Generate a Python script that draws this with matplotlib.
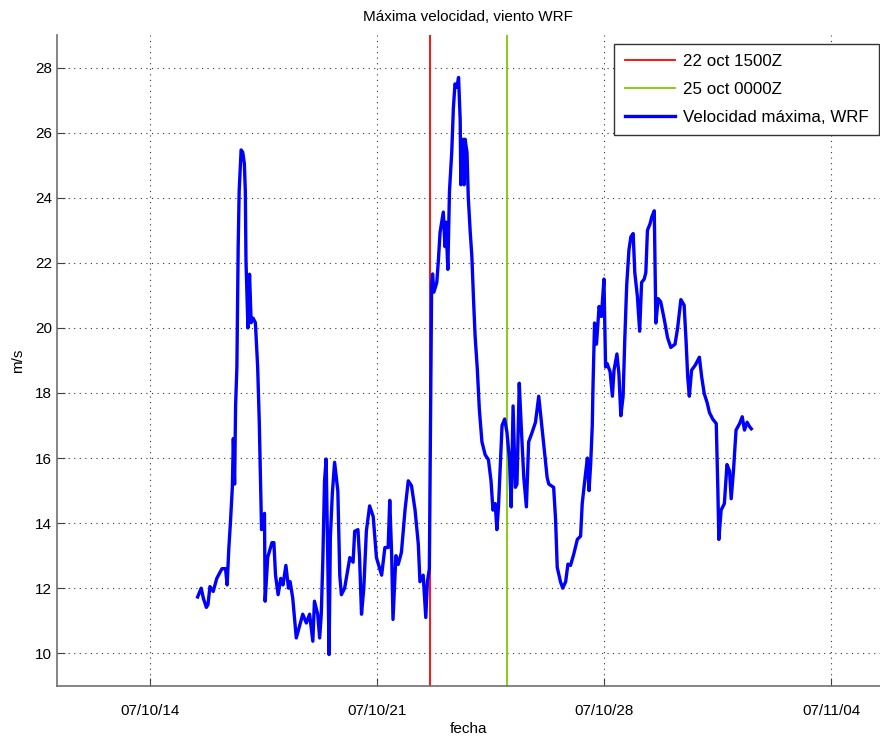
import numpy as np
import matplotlib
matplotlib.use("Agg")
import matplotlib.pyplot as plt
import matplotlib.dates as mdates
from datetime import datetime

plt.rcParams['font.family'] = ['Liberation Sans', 'DejaVu Sans']

# dia = dia de octubre 2007 (fraccional, 32 = 1 nov), vel = m/s
dia = [15.47, 15.58, 15.65, 15.74, 15.79, 15.85, 15.95, 16.06, 16.22, 16.33,
       16.38, 16.43, 16.48, 16.54, 16.57, 16.61, 16.64, 16.68, 16.72, 16.75,
       16.81, 16.86, 16.91, 16.94, 16.96, 17.02, 17.07, 17.12, 17.18, 17.25,
       17.32, 17.37, 17.44, 17.53, 17.55, 17.63, 17.76, 17.82, 17.87, 17.95,
       18.03, 18.10, 18.19, 18.27, 18.32, 18.40, 18.51, 18.71, 18.82, 18.92,
       19.02, 19.07, 19.17, 19.23, 19.28, 19.33, 19.38, 19.43, 19.48, 19.52,
       19.56, 19.62, 19.69, 19.79, 19.85, 19.90, 20.00, 20.16, 20.26, 20.31,
       20.41, 20.46, 20.52, 20.59, 20.67, 20.77, 20.88, 20.98, 21.14, 21.24,
       21.34, 21.39, 21.45, 21.49, 21.58, 21.65, 21.75, 21.86, 21.96, 22.06,
       22.17, 22.27, 22.32, 22.42, 22.50, 22.55, 22.61, 22.64, 22.68, 22.71,
       22.75, 22.84, 22.89, 22.94, 22.99, 23.04, 23.09, 23.12, 23.18, 23.23,
       23.30, 23.35, 23.40, 23.46, 23.51, 23.56, 23.58, 23.64, 23.68, 23.71,
       23.77, 23.81, 23.87, 23.92, 23.97, 24.02, 24.09, 24.15, 24.23, 24.33,
       24.43, 24.51, 24.57, 24.64, 24.69, 24.74, 24.80, 24.85, 24.93, 25.00,
       25.08, 25.13, 25.19, 25.26, 25.31, 25.38, 25.44, 25.52, 25.60, 25.67,
       25.78, 25.88, 25.98, 26.13, 26.24, 26.29, 26.44, 26.50, 26.55, 26.65,
       26.72, 26.81, 26.88, 26.96, 27.06, 27.17, 27.27, 27.32, 27.42, 27.48,
       27.53, 27.58, 27.63, 27.65, 27.70, 27.76, 27.84, 27.91, 27.99, 28.04,
       28.09, 28.18, 28.25, 28.30, 28.39, 28.45, 28.51, 28.58, 28.63, 28.69,
       28.76, 28.82, 28.89, 28.94, 29.02, 29.09, 29.15, 29.23, 29.28, 29.33,
       29.41, 29.46, 29.54, 29.59, 29.66, 29.74, 29.85, 29.95, 30.05, 30.18,
       30.26, 30.36, 30.46, 30.52, 30.57, 30.62, 30.69, 30.80, 30.93, 31.00,
       31.08, 31.17, 31.24, 31.34, 31.45, 31.50, 31.53, 31.60, 31.70, 31.78,
       31.86, 31.91, 31.98, 32.06, 32.17, 32.25, 32.32, 32.40, 32.48, 32.53]
vel = [11.73, 12.0, 11.68, 11.41, 11.5, 12.05, 11.9, 12.3, 12.6, 12.6,
       12.1, 13.2, 14.0, 15.1, 16.6, 15.2, 17.6, 18.8, 22.5, 24.2,
       25.47, 25.4, 25.05, 24.2, 22.07, 20.0, 21.65, 20.16, 20.3, 20.16,
       18.8, 17.1, 13.8, 14.3, 11.6, 12.95, 13.4, 13.4, 12.4, 11.8,
       12.3, 12.1, 12.7, 12.0, 12.2, 11.7, 10.47, 11.2, 10.93, 11.2,
       10.37, 11.6, 11.2, 10.47, 11.2, 12.94, 15.3, 15.97, 12.94, 9.96,
       13.55, 14.9, 15.87, 15.0, 12.4, 11.8, 12.0, 12.94, 12.8, 13.75,
       13.8, 12.94, 11.2, 12.0, 13.76, 14.53, 14.2, 12.94, 12.4, 13.25,
       13.25, 14.7, 13.0, 11.04, 13.0, 12.73, 13.1, 14.4, 15.3, 15.15,
       14.4, 13.35, 12.2, 12.4, 11.1, 12.2, 12.6, 16.5, 21.3, 21.66,
       21.1, 21.4, 22.1, 22.94, 23.25, 23.56, 22.5, 23.25, 21.8, 24.2,
       25.4, 26.75, 27.5, 27.4, 27.7, 26.4, 24.4, 25.8, 24.4, 25.8,
       25.4, 24.0, 22.94, 22.2, 20.9, 19.75, 18.7, 17.5, 16.5, 16.1,
       15.95, 15.3, 14.4, 14.6, 13.8, 14.5, 15.85, 17.0, 17.2, 16.8,
       15.95, 14.5, 17.6, 15.1, 15.2, 18.3, 17.0, 15.4, 14.5, 16.5,
       16.8, 17.1, 17.9, 16.45, 15.4, 15.2, 15.1, 14.1, 12.64, 12.2,
       12.0, 12.2, 12.74, 12.7, 13.05, 13.5, 13.6, 14.6, 15.5, 16.0,
       15.0, 15.8, 17.0, 18.1, 20.15, 19.5, 20.66, 20.35, 21.5, 18.8,
       18.9, 18.65, 17.9, 18.7, 19.2, 18.6, 17.3, 17.9, 19.6, 21.3,
       22.4, 22.8, 22.9, 21.7, 20.97, 19.9, 21.4, 21.5, 21.7, 23.0,
       23.2, 23.4, 23.6, 20.15, 20.9, 20.8, 20.25, 19.7, 19.4, 19.5,
       20.0, 20.87, 20.7, 19.6, 18.5, 17.9, 18.7, 18.85, 19.1, 18.5,
       17.98, 17.7, 17.4, 17.2, 17.06, 15.0, 13.5, 14.4, 14.6, 15.8,
       15.6, 14.75, 15.6, 16.86, 17.06, 17.27, 16.86, 17.1, 16.96, 16.9]

t_rojo = datetime(2007, 10, 22, 15)
t_verde = datetime(2007, 10, 25, 0)

base = mdates.date2num(datetime(2007, 10, 1))
t = base + np.array(dia) - 1

fig = plt.figure(figsize=(8.8, 7.39), dpi=100)
ax = fig.add_axes([0.0645, 0.072, 0.9353, 0.8805])

ax.axvline(mdates.date2num(t_rojo), color='#ff0000', lw=1.3, label='22 oct 1500Z')
ax.axvline(mdates.date2num(t_verde), color='#80c800', lw=1.3, label='25 oct 0000Z')
ax.plot(t, vel, color='#0000ff', lw=2.4, label='Velocidad máxima, WRF')

ax.set_xlim(base + 10.13, base + 35.49)
ax.set_ylim(9, 29)
ax.set_yticks(np.arange(10, 29, 2))
ax.set_xticks([base + 13, base + 20, base + 27, base + 34])
ax.xaxis.set_major_formatter(mdates.DateFormatter('%y/%m/%d'))

ax.grid(True, linestyle=(0, (1, 4)), color='#333333', lw=0.8)
for s in ['top', 'right']:
    ax.spines[s].set_visible(False)
for s in ['left', 'bottom']:
    ax.spines[s].set_color('#707070')
    ax.spines[s].set_linewidth(1.2)
ax.tick_params(direction='in', length=6, labelsize=11, color='#404040')
ax.tick_params(axis='x', pad=13)

ax.set_title('Máxima velocidad, viento WRF', fontsize=11, pad=10)
ax.set_xlabel('fecha', fontsize=11, labelpad=3)
ax.set_ylabel('m/s', fontsize=11, labelpad=7)

leg = ax.legend(loc='upper right', bbox_to_anchor=(0.9988, 0.986),
                fontsize=12.2, handlelength=3.0, handletextpad=0.45,
                fancybox=False, framealpha=1, edgecolor='#333333',
                borderaxespad=0, labelspacing=0.75, borderpad=0.6)
leg.get_frame().set_linewidth(1.0)

fig.savefig('out.png', dpi=100)
